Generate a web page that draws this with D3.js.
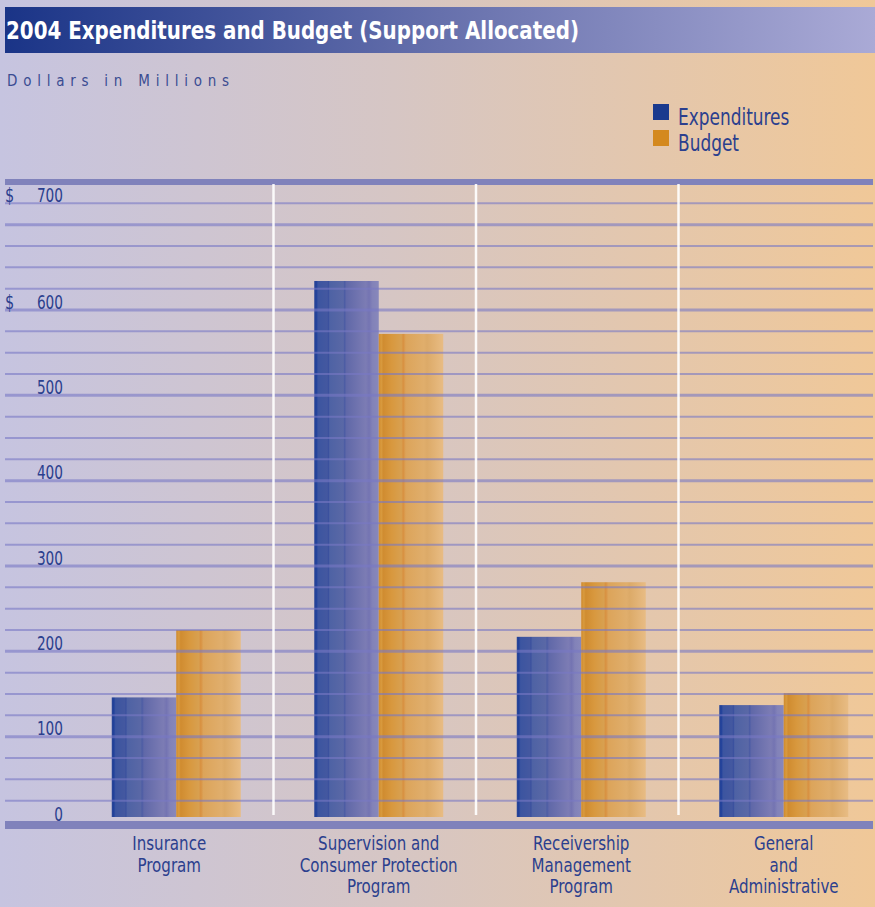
<!DOCTYPE html>
<html><head><meta charset="utf-8">
<script src="https://cdn.jsdelivr.net/npm/d3@7"></script>
<style>html,body{margin:0;padding:0;background:#fff}svg{display:block}</style>
</head><body>
<script>
const categories = ["Insurance Program", "Supervision and Consumer Protection Program", "Receivership Management Program", "General and Administrative"];
const categoryLines = [["Insurance","Program"],["Supervision and","Consumer Protection","Program"],["Receivership","Management","Program"],["General","and","Administrative"]];
const expenditures = [146, 634, 217, 137];
const budget = [225, 572, 281, 151];
const yTicks = [0, 100, 200, 300, 400, 500, 600, 700];
const dollarTicks = [600, 700];
const title = "2004 Expenditures and Budget (Support Allocated)";
const unitLabel = "Dollars in Millions";
const seriesNames = ["Expenditures", "Budget"];

const W = 875, H = 907;
const font = "'DejaVu Sans Condensed','Liberation Sans Narrow','DejaVu Sans',sans-serif";
const textBlue = "#2b3f8e";

const svg = d3.select("body").append("svg").attr("width", W).attr("height", H);
const defs = svg.append("defs");

function label(parent, x, y, str, size, sx, anchor, fill) {
  const g = parent.append("g").attr("transform", `translate(${x},${y}) scale(${sx},1)`);
  return g.append("text").attr("x",0).attr("y",0).attr("font-family",font).attr("font-size",size)
    .attr("text-anchor",anchor || "start").attr("fill",fill || textBlue).text(str);
}

const bg = defs.append("linearGradient").attr("id","bg").attr("x1","0").attr("x2","1").attr("y1","0").attr("y2","0");
bg.append("stop").attr("offset","0").attr("stop-color","#c6c4e0");
bg.append("stop").attr("offset","0.45").attr("stop-color","#d6c6c4");
bg.append("stop").attr("offset","1").attr("stop-color","#f0c898");

const tg = defs.append("linearGradient").attr("id","tg").attr("x1","0").attr("x2","1");
tg.append("stop").attr("offset","0").attr("stop-color","#1a3487");
tg.append("stop").attr("offset","0.5").attr("stop-color","#6670ac");
tg.append("stop").attr("offset","1").attr("stop-color","#aaaad6");

const eg = defs.append("linearGradient").attr("id","eg").attr("x1","0").attr("x2","1");
[[0,"#2c4796"],[0.03,"#20409a"],[0.06,"#3c55a0"],[0.2,"#4458a0"],[0.22,"#3a509e"],[0.24,"#4e62a4"],[0.45,"#5a68a6"],[0.47,"#4c5ca4"],[0.5,"#6068a8"],[0.8,"#7c7cb4"],[0.85,"#7474b2"],[0.9,"#8282b8"],[1,"#8888bb"]]
  .forEach(([o,c]) => eg.append("stop").attr("offset",o).attr("stop-color",c));
const bgr = defs.append("linearGradient").attr("id","bgr").attr("x1","0").attr("x2","1");
[[0,"#d08a2c"],[0.04,"#d89a3e"],[0.07,"#d08c30"],[0.2,"#d8983e"],[0.35,"#d8a050"],[0.38,"#d89040"],[0.42,"#dca45a"],[0.7,"#e0ae6c"],[0.75,"#dcaa68"],[1,"#e8bc84"]]
  .forEach(([o,c]) => bgr.append("stop").attr("offset",o).attr("stop-color",c));

svg.append("rect").attr("width",W).attr("height",H).attr("fill","url(#bg)");

// Title bar
svg.append("rect").attr("x",5).attr("y",7).attr("width",W-5).attr("height",46).attr("fill","url(#tg)");
svg.append("text").attr("x",6).attr("y",39).attr("fill","#fff").attr("font-family",font)
  .attr("font-weight","bold").attr("font-size",25)
  .attr("textLength",573).attr("lengthAdjust","spacingAndGlyphs").text(title);

svg.append("text").attr("x",7).attr("y",86).attr("fill","#3a4c92").attr("font-family",font)
  .attr("font-size",15).attr("textLength",222).attr("lengthAdjust","spacing").text(unitLabel);

// Scales
const y = d3.scaleLinear().domain([0, 750]).range([822, 182]);
const x = d3.scaleBand().domain(categories).range([75, 885]).paddingInner(0);
const inner = d3.scaleBand().domain(seriesNames).range([0, 129]);
const barOffset = (x.bandwidth() - 129) / 2;

// Legend
const legendColors = ["#1a3a8e", "#d4891e"];
const lg = svg.append("g").attr("transform","translate(653,104)");
seriesNames.forEach((s,i) => {
  lg.append("rect").attr("x",0).attr("y",i*26).attr("width",16).attr("height",16).attr("fill",legendColors[i]);
  label(lg, 25, i*26.5 + 20.5, s, 23, 0.82, "start");
});

// Bars
const data = categories.map((c,i) => ({c, vals:[{s:seriesNames[0], v:expenditures[i]},{s:seriesNames[1], v:budget[i]}]}));
const bars = svg.append("g");
data.forEach(d => {
  d.vals.forEach((b,j) => {
    bars.append("rect")
      .attr("x", x(d.c) + barOffset + inner(b.s))
      .attr("y", y(b.v))
      .attr("width", inner.bandwidth())
      .attr("height", y(0) - 5 - y(b.v))
      .attr("fill", j === 0 ? "url(#eg)" : "url(#bgr)");
  });
});

// Grid lines (drawn over bars)
const gridVals = d3.range(25, 750, 25);
svg.append("g").selectAll("line").data(gridVals).join("line")
  .attr("x1",5).attr("x2",873)
  .attr("y1",d=>y(d)).attr("y2",d=>y(d))
  .attr("stroke","#7878c4").attr("stroke-opacity",0.6)
  .attr("stroke-width",d => d % 100 === 0 ? 3 : 2);

// Top and bottom bands
svg.append("rect").attr("x",5).attr("y",y(750)-3).attr("width",868).attr("height",6).attr("fill","#8082bb");
svg.append("rect").attr("x",5).attr("y",y(0)-1).attr("width",868).attr("height",8).attr("fill","#8082bb");

// Vertical separators
categories.slice(1).forEach(c => {
  svg.append("line").attr("x1",x(c)-4).attr("x2",x(c)-4).attr("y1",y(750)+2).attr("y2",y(0)-7)
    .attr("stroke","#ffffff").attr("stroke-width",2.5).attr("stroke-opacity",0.9);
});

// Y labels
const yl = svg.append("g");
yTicks.forEach(v => {
  const ty = (v === 700 ? y(725) : y(v)) - 1.5;
  label(yl, 63, ty, String(v), 20, 0.76, "end");
  if (dollarTicks.includes(v)) label(yl, 5, ty, "$", 20, 0.8, "start");
});

// X labels
const xl = svg.append("g");
categories.forEach((c,i) => {
  const cx = x(c) + x.bandwidth()/2 - (i === 0 ? 7 : 0);
  categoryLines[i].forEach((ln,k) => label(xl, cx, 850 + k*21.5, ln, 19.5, 0.86, "middle"));
});
</script>
</body></html>
